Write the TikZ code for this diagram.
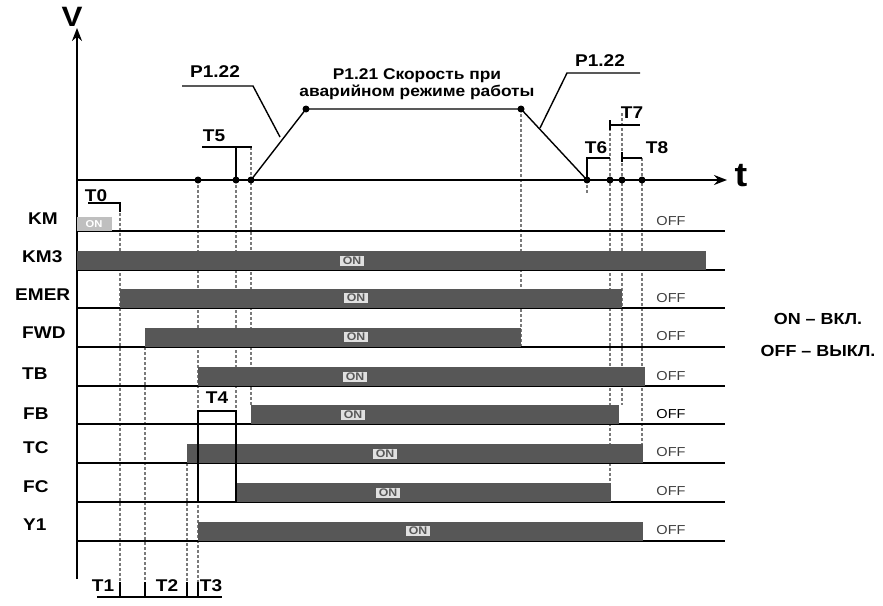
\documentclass[tikz,border=0pt]{standalone}
\usepackage{fontspec}
\setmainfont[FakeStretch=1.12]{Liberation Sans}
\usepackage{tikz}
\usetikzlibrary{arrows.meta}
\definecolor{bargray}{HTML}{575757}
\definecolor{guidegray}{HTML}{7A7A7A}

\begin{document}
\begin{tikzpicture}[x=1pt, y=-1pt]
\tikzstyle{axis} = [line width=1.8pt, -{Stealth[length=13pt,width=10pt]}]
\tikzstyle{base} = [line width=1.4pt]
\tikzstyle{bar} = [fill=bargray, draw=none]
\tikzstyle{guide} = [draw=guidegray, line width=1.9pt, dash pattern=on 3pt off 2pt]
\tikzstyle{sig} = [anchor=west, inner sep=0pt, font=\fontsize{17}{19}\selectfont\bfseries]
\tikzstyle{tlbl} = [inner sep=0pt, font=\fontsize{17}{19}\selectfont\bfseries]
\tikzstyle{onlbl} = [fill=white!88!black, text=black!65, inner xsep=3pt, inner ysep=1.5pt, font=\fontsize{11}{11}\selectfont\bfseries]
\tikzstyle{offlbl} = [text=black!75, inner sep=0pt, font=\fontsize{13}{14}\selectfont]
\tikzstyle{legend} = [inner sep=0pt, font=\fontsize{16}{18}\selectfont\bfseries]

\useasboundingbox (0,0) rectangle (883,605);

% guide lines
\draw[guide] (120,203) -- (120,597);
\draw[guide] (145,347) -- (145,597);
\draw[guide] (187,463) -- (187,597);
\draw[guide] (198,180) -- (198,597);
\draw[guide] (236,180) -- (236,411);
\draw[guide] (251,147) -- (251,405);
\draw[guide] (521,109) -- (521,347);
\draw[guide] (587,180) -- (587,194);
\draw[guide] (610,128) -- (610,484);
\draw[guide] (622,113) -- (622,405);
\draw[guide] (642,158) -- (642,446);

% axes
\draw[axis] (77,579) -- (77,28);
\draw[axis] (77,180) -- (727,180);
\node (vname) at (72,17) [inner sep=0pt, font=\fontsize{28}{28}\selectfont\bfseries] {V};
\node (tname) at (741,176) [inner sep=0pt, font=\fontsize{34}{34}\selectfont\bfseries] {t};

% speed profile
\draw[base] (251,180) -- (306,109) -- (521,109) -- (587,180);
\fill (306,109) circle (3.5pt);
\fill (521,109) circle (3.5pt);
\fill (198,180) circle (3.5pt);
\fill (236,180) circle (3.5pt);
\fill (251,180) circle (3.5pt);
\fill (587,180) circle (3.5pt);
\fill (610,180) circle (3.5pt);
\fill (622,180) circle (3.5pt);
\fill (642,180) circle (3.5pt);

\node (accl) at (215,72) [tlbl] {P1.22};
\draw[base] (182,86) -- (253,86) -- (280,137);
\node (decl) at (600,61) [tlbl] {P1.22};
\draw[base] (640,73) -- (567,73) -- (540,128);
\node (speed) at (417,84) [align=center, inner sep=0pt, font=\fontsize{15.5}{17}\selectfont\bfseries] {P1.21 Скорость при\\аварийном режиме работы};

% time marks
\node (tzero) at (96,196) [tlbl] {T0};
\draw[base] (88,203) -- (120,203) -- (120,212);
\node (tfive) at (214,136) [tlbl] {T5};
\draw[base] (202,147) -- (252,147);
\draw[base] (236,147) -- (236,180);
\node (tsix) at (596,148) [tlbl] {T6};
\draw[base] (587,180) -- (587,158) -- (610,158);
\node (tseven) at (632,113) [tlbl] {T7};
\draw[base] (610,120) -- (610,130);
\draw[base] (610,125) -- (640,125);
\node (teight) at (657,148) [tlbl] {T8};
\draw[base] (622,152) -- (622,162);
\draw[base] (622,158) -- (642,158);

% row base lines
\draw[base] (77,231) -- (725,231);
\draw[base] (77,270) -- (725,270);
\draw[base] (77,308) -- (725,308);
\draw[base] (77,347) -- (725,347);
\draw[base] (77,386) -- (725,386);
\draw[base] (77,424) -- (725,424);
\draw[base] (77,463) -- (725,463);
\draw[base] (77,502) -- (725,502);
\draw[base] (77,541) -- (725,541);

% on bars
\fill[white!75!black] (77,217) rectangle (112,231);
\fill[bar] (77,251) rectangle (706,270);
\fill[bar] (120,289) rectangle (622,308);
\fill[bar] (145,328) rectangle (521,347);
\fill[bar] (198,367) rectangle (645,386);
\fill[bar] (251,405) rectangle (619,424);
\fill[bar] (187,444) rectangle (643,463);
\fill[bar] (236,483) rectangle (611,502);
\fill[bar] (198,522) rectangle (643,541);

% T4 pulse
\draw[base] (198,502) -- (198,411) -- (236,411) -- (236,502);
\node (tfour) at (217,398) [tlbl] {T4};

% bottom marks
\draw[base] (97,597) -- (222,597);
\draw[base] (120,582) -- (120,598);
\draw[base] (145,582) -- (145,598);
\draw[base] (187,582) -- (187,598);
\draw[base] (198,582) -- (198,598);
\node (tone) at (103,586) [tlbl] {T1};
\node (ttwo) at (167,586) [tlbl] {T2};
\node (tthree) at (211,586) [tlbl] {T3};

% signal names
\node (km) at (28,219) [sig] {KM};
\node (kmthree) at (22,257) [sig] {KM3};
\node (emer) at (15,295) [sig] {EMER};
\node (fwd) at (22,333) [sig] {FWD};
\node (tb) at (22,374) [sig] {TB};
\node (fb) at (23,414) [sig] {FB};
\node (tc) at (23,448) [sig] {TC};
\node (fc) at (23,487) [sig] {FC};
\node (yone) at (23,525) [sig] {Y1};

% on labels
\node (kmon) at (94,224) [text=white, inner sep=0pt, font=\fontsize{10}{10}\selectfont\bfseries] {ON};
\node (kmthreeon) at (352,261) [onlbl] {ON};
\node (emeron) at (356,298) [onlbl] {ON};
\node (fwdon) at (356,337) [onlbl] {ON};
\node (tbon) at (355,377) [onlbl] {ON};
\node (fbon) at (353,415) [onlbl] {ON};
\node (tcon) at (385,454) [onlbl] {ON};
\node (fcon) at (388,493) [onlbl] {ON};
\node (yoneon) at (418,531) [onlbl] {ON};

% off labels
\node (kmoff) at (671,221) [offlbl] {OFF};
\node (emeroff) at (671,298) [offlbl] {OFF};
\node (fwdoff) at (671,336) [offlbl] {OFF};
\node (tboff) at (671,376) [offlbl] {OFF};
\node (fboff) at (671,414) [offlbl, text=black] {OFF};
\node (tcoff) at (671,452) [offlbl] {OFF};
\node (fcoff) at (671,491) [offlbl] {OFF};
\node (yoneoff) at (671,530) [offlbl] {OFF};

% legend
\node (legon) at (818,319) [legend] {ON – ВКЛ.};
\node (legoff) at (818,351) [legend] {OFF – ВЫКЛ.};
\end{tikzpicture}
\end{document}
